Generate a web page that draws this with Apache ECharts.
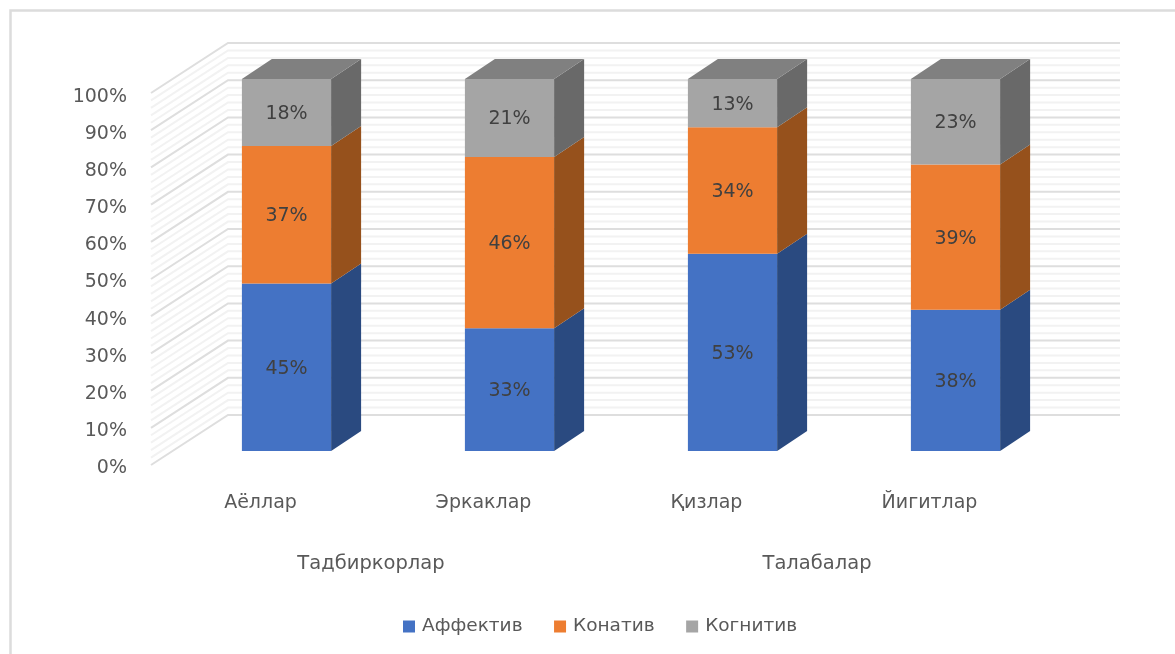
<!DOCTYPE html>
<html><head><meta charset="utf-8">
<style>html,body{margin:0;padding:0;background:#fff}#c{width:1175px;height:654px}</style>
<script src="https://cdn.jsdelivr.net/npm/echarts@6/dist/echarts.min.js"></script>
</head><body><div id="c"></div>
<script>
const categories = ['Аёллар', 'Эркаклар', 'Қизлар', 'Йигитлар'];
const groups = ['Тадбиркорлар', 'Талабалар'];
const affektiv = [45, 33, 53, 38];
const konativ = [37, 46, 34, 39];
const kognitiv = [18, 21, 13, 23];
const seriesNames = ['Аффектив', 'Конатив', 'Когнитив'];
const gridTicks = [0,2,4,6,8,10,12,14,16,18,20,22,24,26,28,30,32,34,36,38,40,42,44,46,48,50,52,54,56,58,60,62,64,66,68,70,72,74,76,78,80,82,84,86,88,90,92,94,96,98,100];

const FONT = '"DejaVu Sans"';
const DEPTH = [30, -20];
const WALL_BACK = [53, -36];
const WALL_FRONT = [-24, 14];

function stacked(values, lower) {
  return values.map((v, i) => [i, lower ? lower[i][2] : 0, (lower ? lower[i][2] : 0) + v, v]);
}
const d1 = stacked(affektiv);
const d2 = stacked(konativ, d1);
const d3 = stacked(kognitiv, d2);

function wallItem(params, api) {
  const v = api.value(0);
  const major = v % 10 === 0;
  const [xL, y] = api.coord([0, v]);
  const band = api.size([1, 0])[0];
  const left = xL - band / 2;
  const right = left + band * categories.length;
  return { type: 'polyline', silent: true, shape: { points: [
      [left + WALL_FRONT[0], y + WALL_FRONT[1]],
      [left + WALL_BACK[0], y + WALL_BACK[1]],
      [right + WALL_BACK[0], y + WALL_BACK[1]]
    ] }, style: { fill: null, stroke: major ? '#dedede' : '#f2f2f2', lineWidth: 2 } };
}

function barItem(colors, isTop) {
  return function (params, api) {
    const idx = api.value(0);
    const p0 = api.coord([idx, api.value(1)]);
    const p1 = api.coord([idx, api.value(2)]);
    const bw = api.size([1, 0])[0] * 0.4;
    const x0 = p0[0] - bw / 2, x1 = p0[0] + bw / 2;
    const yb = p0[1], yt = p1[1];
    const dx = DEPTH[0], dy = DEPTH[1];
    const ch = [
      { type: 'rect', shape: { x: x0, y: yt, width: bw, height: yb - yt }, style: { fill: colors[0] } },
      { type: 'polygon', shape: { points: [[x1, yb], [x1 + dx, yb + dy], [x1 + dx, yt + dy], [x1, yt]] }, style: { fill: colors[1] } }
    ];
    if (isTop) ch.push({ type: 'polygon', shape: { points: [[x0, yt], [x0 + dx, yt + dy], [x1 + dx, yt + dy], [x1, yt]] }, style: { fill: colors[2] } });
    ch.push({ type: 'text', z2: 10, style: { text: api.value(3) + '%', x: p0[0], y: (yb + yt) / 2 + 1.5, align: 'center', verticalAlign: 'middle', font: '19px ' + FONT, fill: '#404040' } });
    return { type: 'group', children: ch };
  };
}

const palette = [['#4472C4', '#2A4A80'], ['#ED7D31', '#96511C'], ['#A5A5A5', '#696969', '#808080']];
const dataSets = [d1, d2, d3];

const option = {
  animation: false,
  backgroundColor: '#fff',
  textStyle: { fontFamily: FONT },
  grid: [
    { left: 175, top: 79, width: 892, height: 372 },
    { left: 175, top: 97, width: 892, height: 371 }
  ],
  legend: {
    left: 398, top: 612, itemWidth: 12, itemHeight: 12, itemGap: 31.5, selectedMode: false,
    textStyle: { fontFamily: FONT, fontSize: 18.5, color: '#595959', padding: [0, 0, 0, 2] },
    data: seriesNames.map((n, i) => ({ name: n, icon: 'rect', itemStyle: { color: palette[i][0] } }))
  },
  xAxis: [
    { type: 'category', gridIndex: 0, data: categories, position: 'bottom', axisLine: { show: false }, axisTick: { show: false },
      axisLabel: { margin: 43, fontFamily: FONT, fontSize: 19, color: '#595959', padding: [0, 52, 0, 0], interval: 0 } },
    { type: 'category', gridIndex: 0, data: groups, position: 'bottom', axisLine: { show: false }, axisTick: { show: false },
      axisLabel: { margin: 103, fontFamily: FONT, fontSize: 19.5, color: '#595959', padding: [0, 54, 0, 0], interval: 0 } },
    { type: 'category', gridIndex: 1, data: categories, show: false }
  ],
  yAxis: [
    { type: 'value', gridIndex: 0, min: 0, max: 100, interval: 10, show: false },
    { type: 'value', gridIndex: 1, min: 0, max: 100, interval: 10, splitLine: { show: false }, axisLine: { show: false }, axisTick: { show: false },
      axisLabel: { formatter: '{value}%', margin: 48, fontFamily: FONT, fontSize: 19, color: '#595959' } }
  ],
  graphic: [
    { type: 'polyline', silent: true, shape: { points: [[1175, 10.5], [10.5, 10.5], [10.5, 654]] }, style: { fill: null, stroke: '#dcdcdc', lineWidth: 2.5 } }
  ],
  series: [
    { type: 'custom', name: 'wall', xAxisIndex: 0, yAxisIndex: 0, renderItem: wallItem, data: gridTicks.map(v => [v]), encode: { y: 0 }, z: 1, silent: true, clip: false }
  ].concat(dataSets.map((ds, i) => ({
    type: 'custom', name: seriesNames[i], xAxisIndex: 0, yAxisIndex: 0, z: 2 + i, clip: false,
    itemStyle: { color: palette[i][0] },
    renderItem: barItem(palette[i], i === 2),
    encode: { x: 0, y: [1, 2] },
    data: ds
  })))
};
const chart = echarts.init(document.getElementById('c'), null, { renderer: 'canvas' });
chart.setOption(option);
</script></body></html>
